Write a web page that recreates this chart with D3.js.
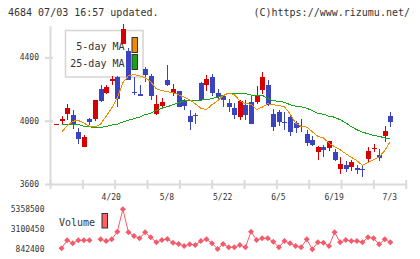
<!DOCTYPE html>
<html>
<head>
<meta charset="utf-8">
<script src="https://cdn.jsdelivr.net/npm/d3@7"></script>
<style>
    body { margin: 0; background: #fff; }
    #chart-area { width: 420px; height: 259px; }
    text { font-family: "DejaVu Sans Mono", "Liberation Mono", monospace; fill: #333; }
</style>
</head>
<body>
<div id="chart-area"></div>
<script>

// trading days 2020/4/6 - 7/3
const dates = ["4/6","4/7","4/8","4/9","4/10","4/13","4/14","4/15","4/16","4/17",
    "4/20","4/21","4/22","4/23","4/24","4/27","4/28","4/30","5/1","5/7",
    "5/8","5/11","5/12","5/13","5/14","5/15","5/18","5/19","5/20","5/21",
    "5/22","5/25","5/26","5/27","5/28","5/29","6/1","6/2","6/3","6/4",
    "6/5","6/8","6/9","6/10","6/11","6/12","6/15","6/16","6/17","6/18",
    "6/19","6/22","6/23","6/24","6/25","6/26","6/29","6/30","7/1","7/2","7/3"];

const openPrices = [3974,3996,4044,4033,3929,3831,4011,4011,4200,4175,
    4253,4274,4486,4442,4179,4171,4329,4284,4040,4095,
    4259,4173,4190,4128,4032,4038,4240,4223,4276,4175,
    4158,4112,4080,4021,4101,4115,4120,4196,4228,4044,
    4055,3989,4021,3985,3958,3918,3880,3800,3836,3829,
    3804,3697,3722,3707,3703,3692,3758,3823,3785,3901,4032];

const highPrices = [3977,4027,4103,4070,3956,3912,4019,4133,4226,4228,
    4284,4284,4609,4459,4276,4226,4337,4295,4162,4143,
    4354,4232,4190,4137,4070,4049,4246,4291,4297,4200,
    4158,4137,4112,4133,4128,4158,4221,4305,4259,4074,
    4065,4055,4027,3996,4013,3943,3901,3838,3849,3874,
    3821,3772,3743,3753,3722,3711,3834,3855,3821,3968,4057];

const lowPrices = [3974,3980,4002,3948,3850,3831,3975,3996,4118,4170,
    4226,4087,4486,4259,4164,4154,4245,4133,4034,4087,
    4217,4158,4085,4070,3939,3981,4133,4185,4158,4128,
    4084,4052,4013,4006,4006,3981,4107,4171,4090,3937,
    3968,3943,3905,3922,3926,3838,3842,3749,3771,3806,
    3743,3663,3675,3684,3663,3644,3737,3800,3743,3863,3958];

const closePrices = [3977,4012,4080,3973,3884,3894,3989,4133,4122,4213,
    4265,4137,4579,4259,4172,4154,4289,4154,4106,4120,
    4228,4198,4087,4090,3989,4027,4133,4265,4177,4150,
    4133,4087,4038,4126,4038,3981,4158,4274,4101,3960,
    3989,3983,3926,3951,3968,3859,3848,3831,3817,3874,
    3754,3728,3697,3739,3686,3688,3810,3827,3762,3937,3989];

const ma5 = [null,3926,3968,3996,4002,3985,3964,3960,3979,4027,
    4080,4143,4240,4284,4291,4284,4272,4246,4202,4190,
    4183,4177,4164,4149,4133,4107,4079,4070,4101,4126,
    4158,4175,4164,4126,4107,4104,4070,4085,4107,4101,
    4095,4088,4044,3985,3964,3959,3930,3901,3891,3858,
    3836,3817,3791,3769,3747,3717,3735,3754,3772,3810,3869];

const ma25 = [null,3979,3978,3977,3975,3965,3962,3956,3956,3964,
    3972,3978,3991,4003,4013,4022,4038,4047,4064,4079,
    4088,4101,4114,4125,4128,4128,4130,4133,4139,4149,
    4161,4171,4171,4171,4171,4162,4162,4161,4139,4126,
    4123,4116,4101,4092,4087,4079,4063,4047,4041,4028,
    4022,4006,3987,3962,3943,3927,3918,3907,3901,3891,3884];

const volume = [null,955000,1858000,1520000,1858000,1858000,1858000,null,1971000,1780000,
    1971000,2830000,5358500,2762000,2344000,2084000,2762000,2197000,1633000,1892000,
    2005000,1588000,1441000,1215000,1407000,1328000,1780000,1971000,1520000,876000,
    1441000,1068000,1068000,1328000,1068000,2830000,1892000,2084000,2084000,1700000,
    1068000,1780000,1520000,1215000,1068000,1971000,842400,1633000,1588000,1215000,
    2762000,1633000,1892000,1780000,1780000,1633000,2197000,2084000,1407000,1971000,1633000];

const priceTicks = [3600, 4000, 4400];
const volumeTicks = [842400, 3100450, 5358500];
const dateLabels = ["4/20", "5/8", "5/22", "6/5", "6/19", "7/3"];

const titleText = "4684 07/03 16:57 updated.";
const copyText = "(C)https://www.rizumu.net/";


class CandleChart {

    constructor(parentElement) {
        this.parentElement = parentElement;
        this.upColor = "#d60000";
        this.downColor = "#3b44c0";
        this.ma5Color = "#f08c00";
        this.ma25Color = "#18a418";
        this.volColor = "#f45b6a";
        this.axisColor = "#dadada";

        this.initVis();
    }

    initVis() {
        let vis = this;

        vis.width = 420;
        vis.height = 259;

        vis.svg = d3.select("#" + vis.parentElement).append("svg")
            .attr("width", vis.width)
            .attr("height", vis.height);

        vis.x = d3.scalePoint().domain(dates).range([56, 390.3]);
        vis.yPrice = d3.scaleLinear().domain([3600, 4600]).range([184, 25.7]);
        vis.yVol = d3.scaleLinear().domain([volumeTicks[0], volumeTicks[2]]).range([249.3, 209.3]);
        vis.gridX = d3.scaleLinear().domain([0, 11]).range([50, 405.7]);

        // header
        vis.svg.append("text")
            .attr("x", 8)
            .attr("y", 15.5)
            .style("font-size", "10px")
            .text(titleText);

        vis.svg.append("text")
            .attr("x", 410)
            .attr("y", 15.5)
            .attr("text-anchor", "end")
            .style("font-size", "10px")
            .text(copyText);

        vis.drawAxes();
        vis.drawLegend();
        vis.drawCandles();
        vis.drawVolume();
    }

    drawAxes() {
        let vis = this;

        let yAxis = vis.svg.append("g")
            .attr("transform", "translate(50,0)")
            .call(d3.axisLeft(vis.yPrice).tickValues(priceTicks).tickFormat(d3.format("d"))
                .tickSizeOuter(0).tickSizeInner(5).tickPadding(6));

        yAxis.select(".domain").attr("stroke", vis.axisColor).attr("stroke-width", 2);
        yAxis.selectAll(".tick line").attr("stroke", vis.axisColor).attr("stroke-width", 2).attr("x1", 3);
        yAxis.selectAll(".tick text")
            .style("font-size", "8px")
            .style("font-family", "DejaVu Sans Mono, monospace")
            .attr("fill", "#333");

        // bottom axis, evenly spaced ticks
        let xAxis = vis.svg.append("g")
            .attr("transform", "translate(0,184)")
            .call(d3.axisBottom(vis.gridX).tickValues(d3.range(12)).tickFormat("").tickSizeOuter(0).tickSizeInner(5));

        xAxis.select(".domain").attr("stroke", vis.axisColor).attr("stroke-width", 2);
        xAxis.selectAll(".tick line").attr("stroke", vis.axisColor).attr("stroke-width", 2).attr("y1", -4);

        vis.svg.selectAll("text.date-label")
            .data(dateLabels)
            .join("text")
            .attr("class", "date-label")
            .attr("x", d => vis.x(d) - 0.5)
            .attr("y", 200)
            .attr("text-anchor", "middle")
            .style("font-size", "8px")
            .text(d => d);
    }

    drawLegend() {
        let vis = this;

        let lg = vis.svg.append("g").attr("class", "legend");

        lg.append("rect")
            .attr("x", 65.5)
            .attr("y", 30.5)
            .attr("width", 77.5)
            .attr("height", 46.5)
            .attr("fill", "#fff")
            .attr("stroke", "#d4d4d4")
            .attr("stroke-width", 1.5);

        let items = [
            {label: "5-day MA", color: vis.ma5Color, y: 50},
            {label: "25-day MA", color: vis.ma25Color, y: 66.7}
        ];

        lg.selectAll("text")
            .data(items)
            .join("text")
            .attr("x", 124.5)
            .attr("y", d => d.y)
            .attr("text-anchor", "end")
            .style("font-size", "10px")
            .text(d => d.label);

        lg.selectAll("rect.swatch")
            .data(items)
            .join("rect")
            .attr("class", "swatch")
            .attr("x", 132)
            .attr("y", (d, i) => i === 0 ? 37.5 : 54.5)
            .attr("width", 5.5)
            .attr("height", 15)
            .attr("fill", d => d.color)
            .attr("stroke", "#333")
            .attr("stroke-width", 1);
    }

    drawCandles() {
        let vis = this;

        let candles = dates.map((d, i) => ({
            date: d,
            open: openPrices[i],
            high: highPrices[i],
            low: lowPrices[i],
            close: closePrices[i]
        }));

        let g = vis.svg.append("g").attr("shape-rendering", "crispEdges");

        g.selectAll("line.wick")
            .data(candles)
            .join("line")
            .attr("class", "wick")
            .attr("x1", d => Math.round(vis.x(d.date)) + 0.5)
            .attr("x2", d => Math.round(vis.x(d.date)) + 0.5)
            .attr("y1", d => vis.yPrice(d.high))
            .attr("y2", d => vis.yPrice(d.low))
            .attr("stroke", d => d.close >= d.open ? vis.upColor : vis.downColor)
            .attr("stroke-width", 1);

        g.selectAll("rect.body")
            .data(candles)
            .join("rect")
            .attr("class", "body")
            .attr("x", d => Math.round(vis.x(d.date)) - 2)
            .attr("width", 5)
            .attr("y", d => vis.yPrice(Math.max(d.open, d.close)))
            .attr("height", d => Math.max(1, Math.abs(vis.yPrice(d.open) - vis.yPrice(d.close))))
            .attr("fill", d => d.close >= d.open ? vis.upColor : vis.downColor);

        let maLine = d3.line()
            .defined(d => d.v != null)
            .x(d => vis.x(d.date))
            .y(d => vis.yPrice(d.v));

        let series = [
            {values: ma25, color: vis.ma25Color},
            {values: ma5, color: vis.ma5Color}
        ];

        g.selectAll("path.ma")
            .data(series)
            .join("path")
            .attr("class", "ma")
            .attr("d", s => maLine(s.values.map((v, i) => ({date: dates[i], v: v}))))
            .attr("fill", "none")
            .attr("stroke", s => s.color)
            .attr("stroke-width", 1);
    }

    drawVolume() {
        let vis = this;

        vis.svg.selectAll("text.vol-tick")
            .data(volumeTicks)
            .join("text")
            .attr("class", "vol-tick")
            .attr("x", 44.5)
            .attr("y", d => vis.yVol(d))
            .attr("dy", "0.35em")
            .attr("text-anchor", "end")
            .style("font-size", "8px")
            .text(d => d);

        vis.svg.append("text")
            .attr("x", 59)
            .attr("y", 225.5)
            .style("font-size", "10px")
            .text("Volume");

        vis.svg.append("rect")
            .attr("x", 102)
            .attr("y", 213.5)
            .attr("width", 5.5)
            .attr("height", 14.5)
            .attr("fill", "#ff6262")
            .attr("stroke", "#333")
            .attr("stroke-width", 1);

        let points = volume.map((v, i) => ({date: dates[i], v: v}));

        let volLine = d3.line()
            .defined(d => d.v != null)
            .x(d => vis.x(d.date))
            .y(d => vis.yVol(d.v));

        vis.svg.append("path")
            .attr("d", volLine(points))
            .attr("fill", "none")
            .attr("stroke", vis.volColor)
            .attr("stroke-width", 1);

        let r = 3;
        vis.svg.selectAll("path.vol-pt")
            .data(points.filter(d => d.v != null))
            .join("path")
            .attr("class", "vol-pt")
            .attr("d", d => {
                let cx = vis.x(d.date), cy = vis.yVol(d.v);
                return `M${cx},${cy - r}L${cx + r},${cy}L${cx},${cy + r}L${cx - r},${cy}Z`;
            })
            .attr("fill", vis.volColor);
    }
}

new CandleChart("chart-area");

</script>
</body>
</html>
